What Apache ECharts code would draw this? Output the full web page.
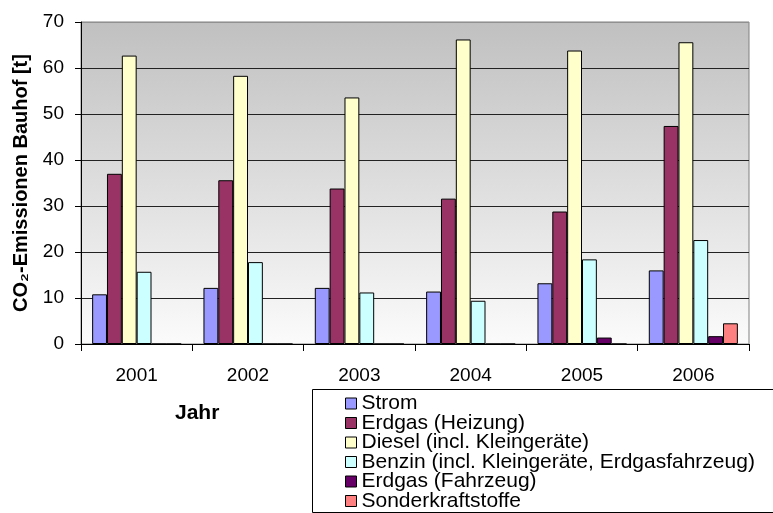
<!DOCTYPE html>
<html>
<head>
<meta charset="utf-8">
<script src="https://cdn.jsdelivr.net/npm/echarts@6/dist/echarts.min.js"></script>
<style>html,body{margin:0;padding:0;background:#fff;}#c{width:773px;height:513px;}</style>
</head>
<body>
<div id="c"></div>
<script>
const years = ['2001', '2002', '2003', '2004', '2005', '2006'];
const strom = [10.8, 12.2, 12.2, 11.4, 13.2, 16.0];
const erdgasHeizung = [37.0, 35.6, 33.8, 31.6, 28.8, 47.4];
const diesel = [62.7, 58.3, 53.6, 66.2, 63.8, 65.6];
const benzin = [15.7, 17.8, 11.2, 9.4, 18.4, 22.6];
const erdgasFahrzeug = [0, 0, 0, 0, 1.4, 1.7];
const sonder = [0, 0, 0, 0, 0, 4.5];
const seriesNames = ['Strom', 'Erdgas (Heizung)', 'Diesel (incl. Kleingeräte)', 'Benzin (incl. Kleingeräte, Erdgasfahrzeug)', 'Erdgas (Fahrzeug)', 'Sonderkraftstoffe'];
const seriesData = [strom, erdgasHeizung, diesel, benzin, erdgasFahrzeug, sonder];
const colors = ['#9999FF', '#993366', '#FFFFCC', '#CCFFFF', '#660066', '#FF8080'];
const yTicks = [0, 10, 20, 30, 40, 50, 60, 70];

const FONT = 'Liberation Sans, Arial, sans-serif';
const chart = echarts.init(document.getElementById('c'));
chart.setOption({
  animation: false,
  textStyle: { fontFamily: FONT },
  title: {
    text: 'Jahr', left: 175, top: 403, padding: 0,
    textStyle: { fontFamily: FONT, fontSize: 21, fontWeight: 'bold', color: '#000' }
  },
  grid: {
    left: 81, top: 22, right: 24, bottom: 169,
    show: true,
    borderColor: '#808080', borderWidth: 1,
    backgroundColor: { type: 'linear', x: 0, y: 0, x2: 0, y2: 1,
      colorStops: [{ offset: 0, color: '#c0c0c0' }, { offset: 1, color: '#fbfbfb' }] }
  },
  legend: {
    orient: 'vertical', left: 345, top: 393, height: 300,
    itemWidth: 11, itemHeight: 11, itemGap: -1.5, icon: 'rect',
    padding: 0,
    itemStyle: { borderColor: '#000', borderWidth: 1 },
    textStyle: { fontFamily: FONT, fontSize: 21, color: '#000' },
    data: seriesNames
  },
  graphic: [{
    type: 'rect', left: 312, top: 389, z: -1,
    shape: { width: 480, height: 123 },
    style: { fill: '#fff', stroke: '#000', lineWidth: 1 }
  }],
  xAxis: {
    type: 'category', data: years,
    axisLine: { lineStyle: { color: '#000', width: 1 } },
    axisTick: { show: true, length: 7, lineStyle: { color: '#000' } },
    axisLabel: { fontSize: 19, color: '#000', margin: 22, fontFamily: FONT }
  },
  yAxis: {
    type: 'value', min: 0, max: 70, interval: 10,
    name: 'CO₂-Emissionen Bauhof [t]', nameLocation: 'middle', nameGap: 50,
    nameTextStyle: { fontSize: 20, fontWeight: 'bold', color: '#000', fontFamily: FONT },
    axisLine: { show: true, lineStyle: { color: '#000', width: 1 } },
    axisTick: { show: true, length: 6, lineStyle: { color: '#000' } },
    axisLabel: { fontSize: 19, color: '#000', margin: 17, fontFamily: FONT,
      formatter: v => yTicks.includes(v) ? String(v) : '' },
    splitLine: { show: true, lineStyle: { color: ['#222', '#222', '#222', '#222', '#222', '#222', '#222', '#909090'], width: 1 } }
  },
  series: seriesNames.map((n, i) => ({
    name: n, type: 'bar', data: seriesData[i],
    barGap: '0%', barCategoryGap: '20%',
    itemStyle: { color: colors[i], borderColor: '#000', borderWidth: 1 }
  }))
});
</script>
</body>
</html>
